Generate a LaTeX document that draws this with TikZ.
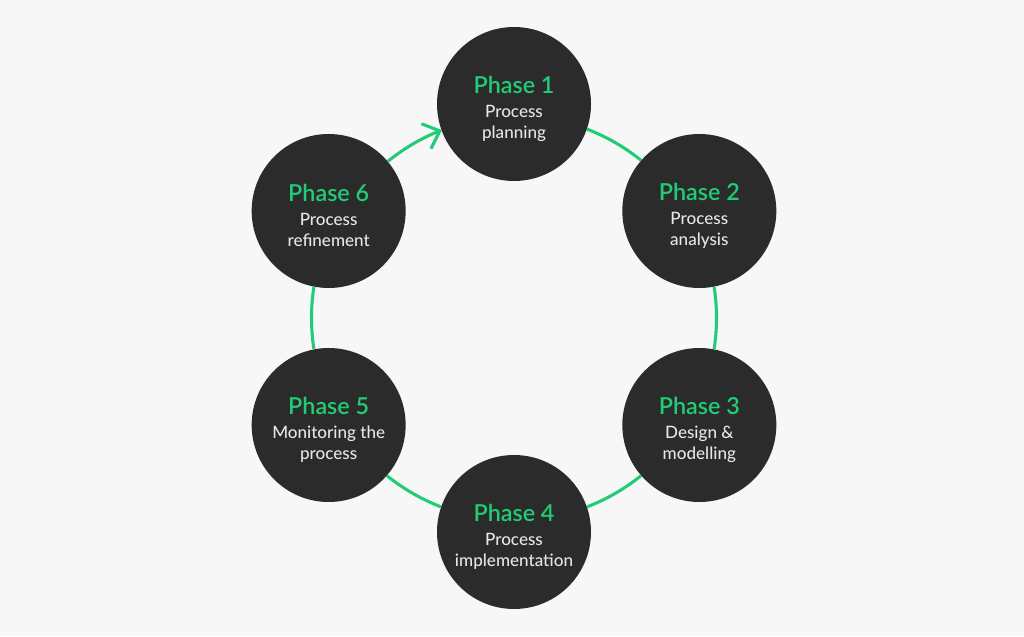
\documentclass[tikz,border=0pt]{standalone}
\usepackage{fontspec}
\setmainfont{Lato Medium}[BoldFont={Lato Semibold}]
\usetikzlibrary{arrows.meta}
\definecolor{phasegreen}{HTML}{20CD76}
\definecolor{phasedark}{HTML}{2B2B2B}
\definecolor{phasetext}{HTML}{E6E6E6}
\definecolor{pagebg}{HTML}{F7F7F7}

\begin{document}
\begin{tikzpicture}[x=0.75pt,y=0.75pt,
  phase/.style={circle,fill=phasedark,minimum size=115.5pt,inner sep=0pt},
  ptext/.style={text=phasetext,align=center,inner sep=0pt,yshift=-3.5pt,
    font=\fontsize{12.8}{15.75}\selectfont},
  link/.style={phasegreen,line width=2.3pt},
  >={Straight Barb[length=11pt,width=20pt]}]
  \fill[pagebg] (0,0) rectangle (1024,636);
  \useasboundingbox (0,0) rectangle (1024,636);
  \begin{scope}[shift={(514,318)}]
    % phases around the cycle
    \foreach \i/\a/\txt in {1/90/{Process\\planning},2/30/{Process\\analysis},
        3/-30/{Design \&\\modelling},4/-90/{Process\\implementation},
        5/-150/{Monitoring the\\process},6/150/{Process\\refinement}}
      \node[phase,label={[ptext]center:{{\color{phasegreen}\fontsize{17.5}{22}\selectfont\bfseries
        Phase \i}\\[2pt]\txt}}] (p\i) at (\a:214) {};
    % green links between neighbours
    \foreach \i/\j in {1/2,2/3,3/4,4/5,5/6}{
      \pgfmathsetmacro\a{90-60*(\i-1)}
      \pgfmathsetmacro\anc{\a-109.3}
      \pgfmathsetmacro\sa{\a-21.1}
      \pgfmathsetmacro\ea{\a-38.9}
      \draw[link] (p\i.\anc) arc[start angle=\sa,end angle=\ea,radius=151.5pt];
    }
    \draw[link,->] (p6.40.7) arc[start angle=128.9,end angle=111.1,radius=151.5pt];
  \end{scope}
\end{tikzpicture}
\end{document}
